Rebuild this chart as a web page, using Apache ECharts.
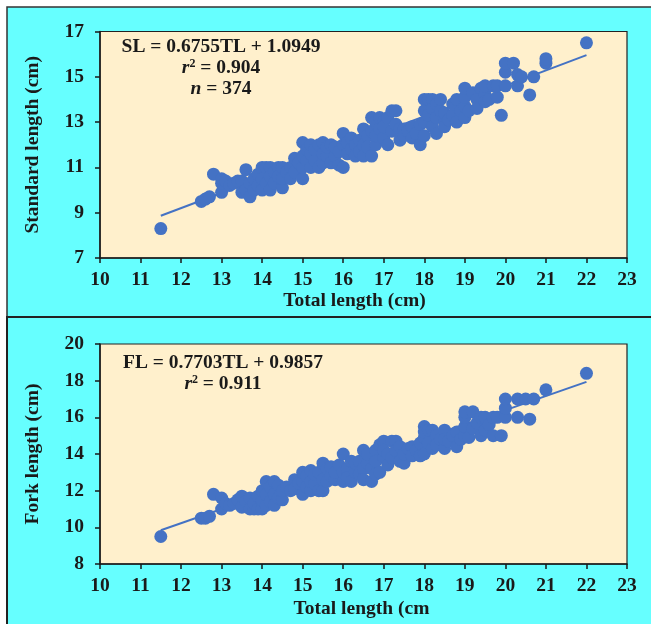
<!DOCTYPE html>
<html>
<head>
<meta charset="utf-8">
<script src="https://cdn.jsdelivr.net/npm/echarts@6/dist/echarts.min.js"></script>
<style>
  html, body { margin: 0; padding: 0; background: #fff; }
  #main { width: 651px; height: 624px; }
</style>
</head>
<body>
<div id="main"></div>
<script>
var dom = document.getElementById("main");
var chart = echarts.init(dom);

// total length vs standard length (cm)
var sl_points = [
  [11.5,8.3],
  [12.5,9.5],[12.6,9.6],[12.7,9.7],[12.8,10.7],
  [13.0,9.9],[13.0,10.3],[13.0,10.5],[13.1,10.4],[13.2,10.2],[13.3,10.3],[13.4,10.4],
  [13.5,9.9],[13.5,10.4],[13.6,10.9],[13.6,10.0],[13.7,9.7],[13.7,10.3],[13.8,10.0],[13.8,10.5],[13.9,10.2],[13.9,10.7],
  [14.0,11.0],[14.0,10.5],[14.0,10.0],[14.1,11.0],[14.1,10.3],[14.2,11.0],[14.2,10.6],[14.2,10.0],[14.3,10.8],[14.3,10.3],
  [14.4,11.0],[14.4,10.6],[14.5,10.1],[14.5,10.5],[14.5,11.0],
  [14.6,10.8],[14.7,11.0],[14.7,10.5],[14.8,11.4],[14.8,10.8],[14.9,11.2],[15.0,10.5],[15.0,11.0],[15.0,11.5],[15.0,12.1],
  [15.1,11.3],[15.1,11.8],[15.2,11.0],[15.2,11.6],[15.2,12.0],[15.3,11.3],[15.3,11.8],[15.4,11.0],[15.4,12.0],
  [15.5,11.2],[15.5,11.6],[15.5,12.1],
  [15.6,11.5],[15.6,11.9],[15.7,11.2],[15.7,12.0],[15.8,11.5],[15.8,11.9],[15.9,11.1],[15.9,11.7],[16.0,11.0],[16.0,12.0],[16.0,12.5],
  [16.1,11.6],[16.1,12.1],[16.2,11.8],[16.2,12.3],[16.3,11.5],[16.3,12.0],[16.4,12.2],[16.4,11.7],[16.5,12.7],[16.5,12.0],[16.5,11.5],
  [16.6,12.4],[16.6,11.9],[16.7,13.2],[16.7,12.6],[16.7,11.5],[16.8,12.0],[16.8,13.0],[16.8,12.4],[16.9,12.7],[16.9,13.2],
  [17.0,12.3],[17.0,13.0],[17.0,12.8],
  [17.1,13.2],[17.1,12.0],[17.2,13.5],[17.2,12.6],[17.3,13.5],[17.3,12.9],[17.4,12.2],[17.4,12.7],[17.5,12.7],[17.5,12.4],
  [17.6,12.6],[17.7,12.8],[17.7,12.3],[17.8,12.5],[17.9,12.0],[17.9,12.9],[18.0,12.4],[18.0,13.0],[18.0,13.5],[18.0,14.0],
  [18.1,14.0],[18.1,13.3],[18.2,14.0],[18.2,12.8],[18.2,13.6],[18.3,13.8],[18.3,12.5],[18.3,13.2],[18.4,13.5],[18.4,14.0],
  [18.5,13.0],[18.5,12.8],[18.5,13.4],
  [18.6,13.1],[18.7,13.3],[18.7,13.8],[18.8,13.0],[18.8,14.0],[18.9,13.5],[19.0,13.2],[19.0,13.7],[19.0,14.1],[19.0,14.5],
  [19.1,13.5],[19.2,14.3],[19.3,14.0],[19.3,13.6],[19.4,14.5],[19.5,14.2],[19.5,14.6],[19.5,13.9],[19.6,14.0],[19.7,14.6],
  [19.8,14.1],[19.8,14.6],[19.9,13.3],
  [20.0,14.6],[20.0,15.2],[20.0,15.6],[20.2,15.6],[20.3,15.1],[20.3,14.6],[20.4,15.0],[20.6,14.2],[20.7,15.0],[21.0,15.6],[21.0,15.8],
  [22.0,16.5]
];

// total length vs fork length (cm)
var fl_points = [
  [11.5,9.5],
  [12.5,10.5],[12.6,10.5],[12.7,10.6],[12.8,11.8],
  [13.0,11.0],[13.0,11.6],[13.1,11.3],[13.2,11.2],[13.3,11.3],[13.4,11.5],
  [13.5,11.1],[13.5,11.7],[13.6,11.4],[13.7,11.0],[13.7,11.6],[13.8,11.0],[13.8,11.3],[13.9,11.7],[13.9,11.0],
  [14.0,11.0],[14.0,11.5],[14.0,12.0],[14.1,12.5],[14.1,11.2],[14.1,11.8],[14.2,12.2],[14.2,11.4],[14.3,12.5],[14.3,11.8],
  [14.3,11.2],[14.4,11.6],[14.4,12.3],[14.5,11.5],[14.5,12.0],
  [14.6,12.2],[14.7,12.0],[14.8,12.6],[14.8,12.1],[14.9,12.4],[15.0,11.8],[15.0,12.5],[15.0,13.0],
  [15.1,12.2],[15.1,12.8],[15.2,12.0],[15.2,12.5],[15.2,13.1],[15.3,12.4],[15.3,12.9],[15.4,12.0],[15.4,13.0],
  [15.5,12.0],[15.5,12.6],[15.5,13.5],
  [15.6,12.5],[15.6,13.2],[15.7,12.8],[15.7,13.3],[15.8,12.6],[15.8,13.0],[15.9,13.4],[16.0,12.5],[16.0,13.0],[16.0,14.0],
  [16.1,13.2],[16.1,12.7],[16.2,13.6],[16.2,12.5],[16.3,13.0],[16.3,13.5],[16.4,12.9],[16.4,13.6],[16.5,14.2],[16.5,13.2],[16.5,12.6],
  [16.6,13.5],[16.6,14.0],[16.7,12.5],[16.7,13.2],[16.8,14.2],[16.8,13.6],[16.8,12.9],[16.9,13.0],[16.9,14.5],
  [17.0,13.8],[17.0,14.7],[17.0,14.2],
  [17.1,14.0],[17.1,13.4],[17.2,14.7],[17.2,13.8],[17.3,14.7],[17.3,14.2],[17.4,13.6],[17.4,14.4],[17.5,13.5],[17.5,14.0],
  [17.6,14.3],[17.7,14.4],[17.7,13.9],[17.8,14.2],[17.9,13.9],[17.9,14.6],[18.0,14.0],[18.0,14.9],[18.0,15.5],[18.0,15.2],
  [18.1,15.3],[18.1,14.6],[18.2,15.3],[18.2,14.3],[18.3,15.0],[18.3,14.5],[18.4,14.8],[18.5,15.3],[18.5,14.3],[18.5,14.8],
  [18.6,14.7],[18.7,15.0],[18.8,14.4],[18.8,15.2],[18.9,14.8],[19.0,15.0],[19.0,15.5],[19.0,16.0],[19.0,16.3],
  [19.1,14.9],[19.2,16.3],[19.2,15.4],[19.3,15.7],[19.4,15.0],[19.4,16.0],[19.5,16.0],[19.5,15.3],[19.6,15.6],[19.7,15.0],
  [19.7,16.0],[19.8,16.0],[19.9,15.0],
  [20.0,16.0],[20.0,16.5],[20.0,17.0],[20.3,17.0],[20.3,16.0],[20.5,17.0],[20.6,15.9],[20.7,17.0],[21.0,17.5],
  [22.0,18.4]
];

// regression coefficients as printed on the chart
var sl_fit = { slope: 0.6755, intercept: 1.0949 };
var fl_fit = { slope: 0.7703, intercept: 0.9857 };
var fit_range = [11.5, 22];

var sl_labels = ['SL = 0.6755TL + 1.0949', '{i|r}{s|2}{b| = 0.904}', '{i|n}{b| = 374}'];
var fl_labels = ['FL = 0.7703TL + 0.9857', '{i|r}{s|2}{b| = 0.911}'];

function fitLine(fit) {
  return fit_range.map(function (x) {
    return [x, +(fit.slope * x + fit.intercept).toFixed(4)];
  });
}

var blue = '#4472C4';
var ink = '#1a1a1a';
var serif = '"Liberation Serif", "Times New Roman", serif';
var fs = 19.5;

function xAxisOpt(idx, name, gap, shift) {
  return {
    gridIndex: idx, type: 'value', min: 10, max: 23, interval: 1,
    name: name, nameLocation: 'middle', nameGap: gap,
    nameTextStyle: { fontFamily: serif, fontWeight: 'bold', fontSize: fs, color: ink,
                     padding: [0, shift, 0, 0] },
    axisLine: { onZero: false, lineStyle: { color: ink, width: 1.5 } },
    axisTick: { inside: false, length: 5, lineStyle: { color: ink, width: 1.5 } },
    axisLabel: { fontFamily: serif, fontWeight: 'bold', fontSize: fs, color: ink, margin: 12 },
    splitLine: { show: false }
  };
}

function yAxisOpt(idx, name, min, max) {
  return {
    gridIndex: idx, type: 'value', min: min, max: max, interval: 2,
    name: name, nameLocation: 'middle', nameGap: 57,
    nameTextStyle: { fontFamily: serif, fontWeight: 'bold', fontSize: fs, color: ink },
    axisLine: { onZero: false, lineStyle: { color: ink, width: 1.5 } },
    axisTick: { inside: false, length: 5, lineStyle: { color: ink, width: 1.5 } },
    axisLabel: { fontFamily: serif, fontWeight: 'bold', fontSize: fs, color: ink, margin: 16 },
    splitLine: { show: false }
  };
}

var richStyle = {
  b: { fontFamily: serif, fontWeight: 'bold', fontSize: fs, fill: ink },
  i: { fontFamily: serif, fontWeight: 'bold', fontStyle: 'italic', fontSize: fs, fill: ink },
  s: { fontFamily: serif, fontWeight: 'bold', fontSize: 12, fill: ink, verticalAlign: 'top', padding: [0, 0, 8, 0] }
};

var panels = [
  { type: 'rect', shape: { x: 7, y: 7, width: 650, height: 310 },
    style: { fill: '#66FFFF', stroke: '#333', lineWidth: 1.5 }, z: -10 },
  { type: 'rect', shape: { x: 7, y: 317, width: 650, height: 320 },
    style: { fill: '#66FFFF', stroke: '#222', lineWidth: 2 }, z: -10 }
];

var notes = [];
function addLabels(lines, cx, cy0, step) {
  lines.forEach(function (t, k) {
    notes.push({
      type: 'text', x: cx, y: cy0 + k * step, z: 10,
      style: {
        text: t, rich: richStyle,
        fontFamily: serif, fontWeight: 'bold', fontSize: fs, fill: ink,
        align: 'center', verticalAlign: 'middle'
      }
    });
  });
}
addLabels(sl_labels, 221, 47, 21);
addLabels(fl_labels, 223, 363, 20.5);

var option = {
  backgroundColor: '#ffffff',
  animation: false,
  graphic: panels.concat(notes),
  grid: [
    { left: 100, top: 31.5, width: 527, height: 226.5, show: true,
      backgroundColor: '#FFF0CC', borderColor: '#222', borderWidth: 1.2 },
    { left: 100, top: 344, width: 527, height: 220, show: true,
      backgroundColor: '#FFF0CC', borderColor: '#222', borderWidth: 1.2 }
  ],
  xAxis: [
    xAxisOpt(0, 'Total length (cm)', 32, 18),
    xAxisOpt(1, 'Total length (cm', 35, 4)
  ],
  yAxis: [
    yAxisOpt(0, 'Standard length (cm)', 7, 17),
    yAxisOpt(1, 'Fork length (cm)', 8, 20)
  ],
  series: [
    { type: 'line', xAxisIndex: 0, yAxisIndex: 0, data: fitLine(sl_fit),
      symbol: 'none', lineStyle: { color: blue, width: 2 }, z: 1 },
    { type: 'scatter', xAxisIndex: 0, yAxisIndex: 0, data: sl_points,
      symbolSize: 13, itemStyle: { color: blue, opacity: 1 }, z: 2 },
    { type: 'line', xAxisIndex: 1, yAxisIndex: 1, data: fitLine(fl_fit),
      symbol: 'none', lineStyle: { color: blue, width: 2 }, z: 1 },
    { type: 'scatter', xAxisIndex: 1, yAxisIndex: 1, data: fl_points,
      symbolSize: 13, itemStyle: { color: blue, opacity: 1 }, z: 2 }
  ]
};

chart.setOption(option);
</script>
</body>
</html>
